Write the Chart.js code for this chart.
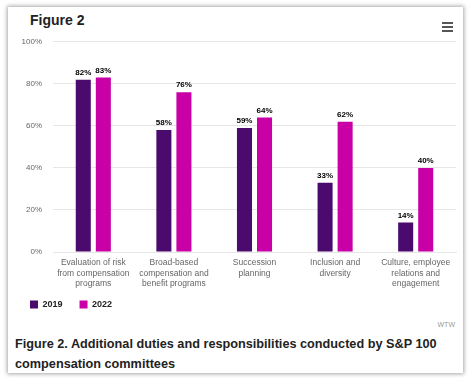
<!DOCTYPE html>
<html>
<head>
<meta charset="utf-8">
<script src="https://cdn.jsdelivr.net/npm/chart.js@4"></script>
<style>
  html,body{margin:0;padding:0;background:#fff;width:470px;height:378px;overflow:hidden;}
  #card{position:absolute;left:8px;top:7px;width:455px;height:366px;background:#fff;box-shadow:0 0 4px 1px rgba(0,0,0,0.35);}
  #title{position:absolute;left:22px;top:5px;font:bold 14px "Liberation Sans",Arial,sans-serif;color:#222;}
  #menu{position:absolute;left:434px;top:15px;width:11px;}
  #menu div{height:2px;background:#555;margin-bottom:2px;}
  #wrap{position:absolute;left:0;top:19px;width:455px;height:293px;}
  #credit{position:absolute;right:8px;top:314px;font:7px "Liberation Sans",Arial,sans-serif;color:#999;}
  #caption{position:absolute;left:7px;top:327px;width:450px;font:bold 12.7px "Liberation Sans",Arial,sans-serif;color:#222;line-height:20px;}
</style>
</head>
<body>
<div id="card">
  <div id="title">Figure 2</div>
  <div id="menu"><div></div><div></div><div></div></div>
  <div id="wrap"><canvas id="c"></canvas></div>
  <div id="credit">WTW</div>
  <div id="caption">Figure 2. Additional duties and responsibilities conducted by S&amp;P 100 compensation committees</div>
</div>
<script>
const categories = [
  ["Evaluation of risk","from compensation","programs"],
  ["Broad-based","compensation and","benefit programs"],
  ["Succession","planning"],
  ["Inclusion and","diversity"],
  ["Culture, employee","relations and","engagement"]
];
const seriesNames = ["2019","2022"];
const values2019 = [82,58,59,33,14];
const values2022 = [83,76,64,62,40];
const yTicks = [0,20,40,60,80,100];
const colors = ["#4A0A6E","#C800A5"];

const labelPlugin = {
  id:'barLabels',
  beforeDraw(chart){
    // let x-axis labels overflow their box (legend sits close below)
    chart.scales.x._computeLabelArea = () => undefined;
  },
  afterDatasetsDraw(chart){
    const ctx = chart.ctx;
    ctx.save();
    ctx.font = 'bold 8px "Liberation Sans", Arial, sans-serif';
    ctx.fillStyle = '#000';
    ctx.textAlign = 'center';
    ctx.textBaseline = 'bottom';
    chart.data.datasets.forEach((ds,i)=>{
      const meta = chart.getDatasetMeta(i);
      meta.data.forEach((bar,j)=>{
        ctx.fillText(ds.data[j]+'%', bar.x, bar.y - 3);
      });
    });
    ctx.restore();
  }
};

new Chart(document.getElementById('c'),{
  type:'bar',
  data:{
    labels:categories,
    datasets:[
      {label:seriesNames[0],data:values2019,backgroundColor:colors[0]},
      {label:seriesNames[1],data:values2022,backgroundColor:colors[1]}
    ]
  },
  options:{
    responsive:true,
    maintainAspectRatio:false,
    animation:false,
    datasets:{bar:{categoryPercentage:0.4975,barPercentage:0.75}},
    layout:{padding:{left:5,right:7,top:9,bottom:0}},
    scales:{
      x:{
        grid:{display:false,drawTicks:false},
        border:{display:true,color:'#e6e6e6'},
        ticks:{color:'#666',font:{family:'"Liberation Sans", Arial, sans-serif',size:8.5,lineHeight:1.2},padding:6,maxRotation:0,autoSkip:false},
        afterFit(s){s.height=31;}
      },
      y:{
        min:0,max:100,
        afterBuildTicks(s){s.ticks=yTicks.map(v=>({value:v}));},
        grid:{color:'#e6e6e6',drawTicks:false},
        border:{display:false},
        ticks:{color:'#666',font:{family:'"Liberation Sans", Arial, sans-serif',size:8},padding:11,callback:v=>v+'%'},
        afterFit(s){s.width=40;}
      }
    },
    plugins:{
      legend:{
        position:'bottom',align:'start',
        labels:{boxWidth:8,boxHeight:8,padding:17,color:'#222',font:{family:'"Liberation Sans", Arial, sans-serif',size:9,weight:'bold'}}
      },
      tooltip:{enabled:false}
    }
  },
  plugins:[labelPlugin]
});
</script>
</body>
</html>
